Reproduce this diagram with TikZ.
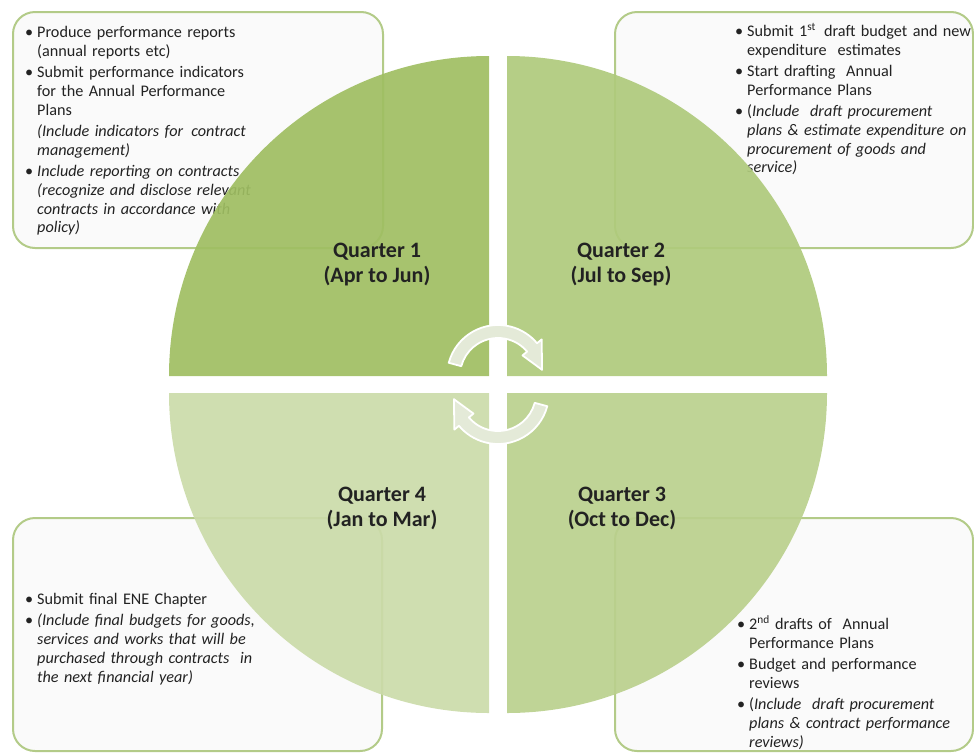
\documentclass[tikz,border=0pt]{standalone}
\usepackage{fontspec}
\setmainfont{Carlito}

\definecolor{qone}{HTML}{9FBE62}
\definecolor{qtwo}{HTML}{AFCA7C}
\definecolor{qthree}{HTML}{BAD08D}
\definecolor{qfour}{HTML}{CBDBA9}
\definecolor{boxline}{HTML}{B3CB88}
\definecolor{txt}{HTML}{222222}
\definecolor{spinfill}{HTML}{E4EAD8}

\newcommand\bul{\par\vspace{2.5pt}\noindent\hangindent=12pt\hangafter=1\makebox[12pt][l]{\textbullet}}
\newcommand\nobul{\par\vspace{2.5pt}\noindent\hangindent=12pt\hangafter=0}
\newcommand\nl{\hfil\break}

\begin{document}
\begin{tikzpicture}[x=1pt, y=-1pt,
    panel/.style={draw=boxline, line width=2pt, fill=black!2, rounded corners=22pt},
    quad/.style={fill opacity=0.92},
    note/.style={anchor=base west, inner sep=0pt, text width=262pt, text=txt,
      font=\fontsize{16.2}{18.8}\selectfont},
    qlabel/.style={align=center, inner sep=0pt, text=txt,
      font=\fontsize{22}{25}\selectfont\bfseries},
    spin/.style={fill=spinfill, draw=white, line width=1.8pt, line join=round}]
    \useasboundingbox (0,0) rectangle (974,753);

    \draw[panel] (13,12) rectangle (383,248);
    \draw[panel] (615,12) rectangle (973,248);
    \draw[panel] (13,518) rectangle (382,751);
    \draw[panel] (615,518) rectangle (973,751);

    \node[note] (txt1) at (25,16) {\bul Produce performance reports\nl(annual reports etc)
      \bul Submit performance indicators\nl for the Annual Performance\nl Plans
      \nobul\textit{(Include indicators for\,\ contract\nl management)}
      \bul\textit{Include reporting on contracts\nl(recognize and disclose relevant\nl contracts in accordance with\nl policy)}\par};
    \node[note] (txt2) at (735,15) {\bul Submit 1\textsuperscript{st}\,\ draft budget and new\nl expenditure\ \ estimates
      \bul Start drafting\ \ Annual\nl Performance Plans
      \bul(\textit{Include\ \ draft procurement\nl plans \& estimate expenditure on\nl procurement of goods and\nl service)}\par};
    \node[note] (txt4) at (25,583) {\bul Submit final ENE Chapter
      \bul\textit{(Include final budgets for goods,\nl services and works that will be\nl purchased through contracts\ \ in\nl the next financial year)}\par};
    \node[note] (txt3) at (737,608) {\bul 2\textsuperscript{nd} drafts of\ \ Annual\nl Performance Plans
      \bul Budget and performance\nl reviews
      \bul(\textit{Include\ \ draft procurement\nl plans \& contract performance\nl reviews)}\par};

    \fill[quad, qone] (489,376) -- (169,376) arc[start angle=180, end angle=270, radius=320] -- cycle;
    \fill[quad, qtwo] (507,376) -- (507,56) arc[start angle=270, end angle=360, radius=320] -- cycle;
    \fill[quad, qthree] (507,393) -- (827,393) arc[start angle=0, end angle=90, radius=320] -- cycle;
    \fill[quad, qfour] (489,393) -- (489,713) arc[start angle=90, end angle=180, radius=320] -- cycle;

    \node[qlabel] (lab1) at (377,265) {Quarter 1\\(Apr to Jun)};
    \node[qlabel] (lab2) at (621,265) {Quarter 2\\(Jul to Sep)};
    \node[qlabel] (lab3) at (622,508) {Quarter 3\\(Oct to Dec)};
    \node[qlabel] (lab4) at (382,508) {Quarter 4\\(Jan to Mar)};

    \begin{scope}[shift={(498,376)}]
      \filldraw[spin] (195:51) arc[start angle=195, end angle=320, radius=51] -- (320:57)
        -- (352:44.5) -- (320:32) -- (320:38) arc[start angle=320, end angle=195, radius=38] -- cycle;
    \end{scope}
    \begin{scope}[shift={(498,393)}]
      \filldraw[spin] (15:51) arc[start angle=15, end angle=140, radius=51] -- (140:57)
        -- (172:44.5) -- (140:32) -- (140:38) arc[start angle=140, end angle=15, radius=38] -- cycle;
    \end{scope}
\end{tikzpicture}
\end{document}
